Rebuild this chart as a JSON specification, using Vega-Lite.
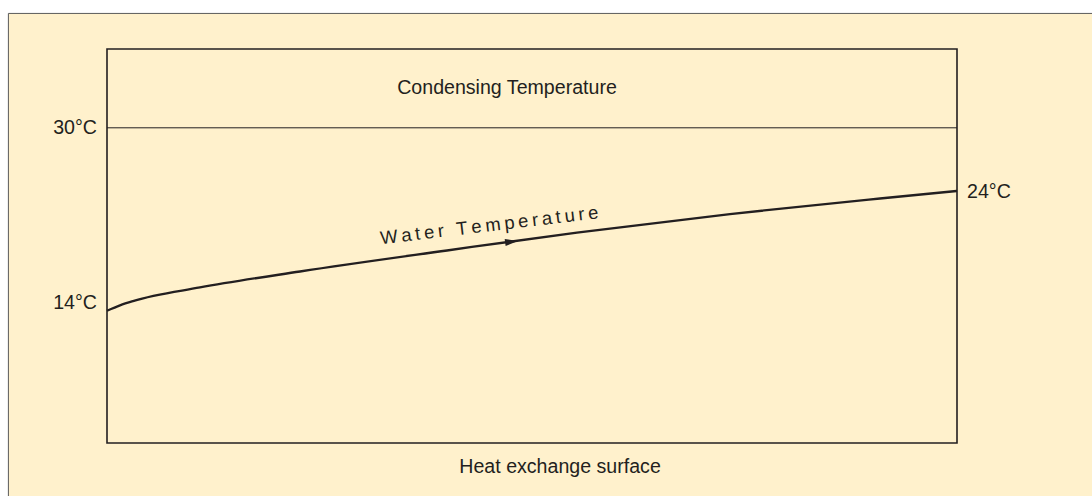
{
  "$schema": "https://vega.github.io/schema/vega-lite/v6.json",
  "width": 850,
  "height": 394,
  "autosize": {"type": "none"},
  "padding": {"left": 107, "top": 49, "right": 135, "bottom": 53},
  "background": "#ffffff",
  "config": {"view": {"stroke": null}, "text": {"font": "Liberation Sans", "fontSize": 19.6, "color": "#231f20"}},
  "data": {"values": [{"item": "annotation"}]},
  "datasets": {
    "water": [
      {"s": 0, "t": 13.29},
      {"s": 1.53, "t": 13.78},
      {"s": 3.06, "t": 14.17},
      {"s": 10.94, "t": 15.41},
      {"s": 22.71, "t": 16.87},
      {"s": 40.0, "t": 18.79},
      {"s": 55.29, "t": 20.43},
      {"s": 73.29, "t": 22.12},
      {"s": 90.94, "t": 23.54},
      {"s": 100, "t": 24.23}
    ]
  },
  "layer": [
    {
      "mark": {"type": "rect", "fill": "#fff1cc", "stroke": "#5a5a5a", "strokeWidth": 1},
      "encoding": {
        "x": {"datum": -11.6, "type": "quantitative", "scale": {"domain": [0, 100], "nice": false, "zero": false}, "axis": null},
        "x2": {"datum": 118},
        "y": {"datum": 40.45, "type": "quantitative", "scale": {"domain": [1.2, 37.2], "nice": false, "zero": false}, "axis": null},
        "y2": {"datum": -6}
      }
    },
    {
      "mark": {"type": "rect", "fill": null, "stroke": "#231f20", "strokeWidth": 1.6},
      "encoding": {
        "x": {"datum": 0, "type": "quantitative"},
        "x2": {"datum": 100},
        "y": {"datum": 37.2, "type": "quantitative"},
        "y2": {"datum": 1.2}
      }
    },
    {
      "mark": {"type": "rule", "color": "#231f20", "strokeWidth": 1},
      "encoding": {
        "x": {"datum": 0, "type": "quantitative"},
        "x2": {"datum": 100},
        "y": {"datum": 30, "type": "quantitative"}
      }
    },
    {
      "data": {"name": "water"},
      "mark": {"type": "line", "color": "#231f20", "strokeWidth": 2.3, "interpolate": "monotone"},
      "encoding": {
        "x": {"field": "s", "type": "quantitative"},
        "y": {"field": "t", "type": "quantitative"}
      }
    },
    {
      "mark": {"type": "point", "shape": "M-1,-0.55L1,0L-1,0.55Z", "filled": true, "color": "#231f20", "opacity": 1, "size": 169, "angle": -7.5},
      "encoding": {
        "x": {"datum": 47.6, "type": "quantitative"},
        "y": {"datum": 19.59, "type": "quantitative"}
      }
    },
    {
      "mark": {"type": "text", "align": "right", "baseline": "middle"},
      "encoding": {
        "x": {"datum": -1.18, "type": "quantitative"},
        "y": {"datum": 30, "type": "quantitative"},
        "text": {"value": "30°C"}
      }
    },
    {
      "mark": {"type": "text", "align": "right", "baseline": "middle"},
      "encoding": {
        "x": {"datum": -1.18, "type": "quantitative"},
        "y": {"datum": 13.95, "type": "quantitative"},
        "text": {"value": "14°C"}
      }
    },
    {
      "mark": {"type": "text", "align": "left", "baseline": "middle"},
      "encoding": {
        "x": {"datum": 101.18, "type": "quantitative"},
        "y": {"datum": 24.1, "type": "quantitative"},
        "text": {"value": "24°C"}
      }
    },
    {
      "mark": {"type": "text", "align": "center", "baseline": "middle"},
      "encoding": {
        "x": {"datum": 47.06, "type": "quantitative"},
        "y": {"datum": 33.64, "type": "quantitative"},
        "text": {"value": "Condensing Temperature"}
      }
    },
    {
      "mark": {"type": "text", "align": "center", "baseline": "middle"},
      "encoding": {
        "x": {"datum": 53.3, "type": "quantitative"},
        "y": {"datum": -1.0, "type": "quantitative"},
        "text": {"value": "Heat exchange surface"}
      }
    },
    {
      "mark": {"type": "text", "align": "center", "baseline": "alphabetic", "angle": -6.8, "fontSize": 18.5},
      "encoding": {
        "x": {"datum": 45.06, "type": "quantitative"},
        "y": {"datum": 20.55, "type": "quantitative"},
        "text": {"value": "W\u2009a\u2009t\u2009e\u2009r\u2009\u00a0\u2009T\u2009e\u2009m\u2009p\u2009e\u2009r\u2009a\u2009t\u2009u\u2009r\u2009e"}
      }
    }
  ]
}
